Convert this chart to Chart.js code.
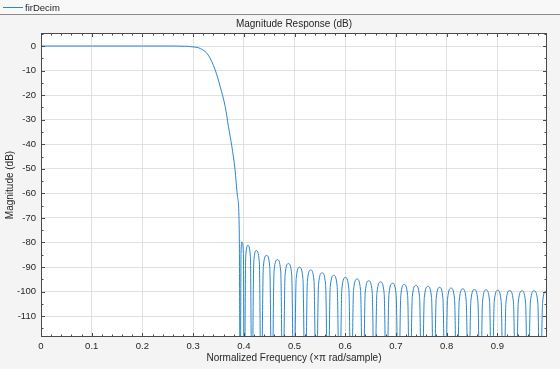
<!DOCTYPE html>
<html lang="en">
<head>
<meta charset="UTF-8">
<title>firDecim - Magnitude Response</title>
<script src="https://cdn.jsdelivr.net/npm/chart.js"></script>
<style>
  html, body { margin: 0; padding: 0; background: #f4f4f4; }
  #wrap { width: 560px; height: 369px; }
</style>
</head>
<body>
<div id="wrap"><canvas id="magChart" width="560" height="369"></canvas></div>

<script>
    // --- data ---
    const seriesName = 'firDecim';
    const chartTitle = 'Magnitude Response (dB)';

    // normalized frequency (x pi rad/sample)
    const freq = [
        // passband + transition
        0, 0.1, 0.2, 0.26, 0.285, 0.2976, 0.314, 0.330, 0.3436, 0.3535, 0.3633, 0.3698, 0.3765, 0.3825, 0.3876, 0.391,
        // stopband lobes: null, rise, peak, fall
        0.3929, 0.3945, 0.3963, 0.3992,
        0.4008, 0.4038, 0.4081, 0.4130,
        0.4160, 0.4197, 0.4245, 0.4306,
        0.4343, 0.4385, 0.4449, 0.4512,
        0.4554, 0.4597, 0.4663, 0.4728,
        0.4771, 0.4814, 0.4880, 0.4945,
        0.4988, 0.5033, 0.5100, 0.5166,
        0.5211, 0.5254, 0.5320, 0.5385,
        0.5428, 0.5474, 0.5544, 0.5613,
        0.5659, 0.5705, 0.5774, 0.5842,
        0.5888, 0.5934, 0.6003, 0.6072,
        0.6118, 0.6164, 0.6234, 0.6303,
        0.6349, 0.6395, 0.6464, 0.6532,
        0.6578, 0.6625, 0.6697, 0.6768,
        0.6815, 0.6862, 0.6933, 0.7004,
        0.7051, 0.7096, 0.7164, 0.7231,
        0.7276, 0.7323, 0.7395, 0.7466,
        0.7513, 0.7560, 0.7632, 0.7703,
        0.7750, 0.7794, 0.7861, 0.7928,
        0.7972, 0.8018, 0.8088, 0.8157,
        0.8203, 0.8249, 0.8318, 0.8386,
        0.8432, 0.8478, 0.8548, 0.8617,
        0.8663, 0.8709, 0.8778, 0.8847,
        0.8893, 0.8939, 0.9008, 0.9076,
        0.9122, 0.9171, 0.9245, 0.9318,
        0.9367, 0.9414, 0.9486, 0.9557,
        0.9604, 0.9652, 0.9725, 0.9798,
        0.9846, 0.9893, 0.9955, 0.9975
    ];

    // magnitude (dB), same order as freq
    const magDb = [
        0, 0, 0, 0, -0.1, -0.3, -1.0, -3.7, -9.8, -16.6, -24.7, -32.9, -41.0, -50.0, -61.4, -74.9,
        -150, -84.4, -79.8, -84.4,
        -150, -85.8, -81.2, -85.8,
        -150, -87.9, -83.3, -87.9,
        -150, -89.9, -85.3, -89.9,
        -150, -91.6, -87.0, -91.6,
        -150, -93.2, -88.6, -93.2,
        -150, -94.7, -90.1, -94.7,
        -150, -95.8, -91.2, -95.8,
        -150, -97.0, -92.4, -97.0,
        -150, -98.0, -93.4, -98.0,
        -150, -98.9, -94.3, -98.9,
        -150, -99.5, -94.9, -99.5,
        -150, -100.2, -95.6, -100.2,
        -150, -100.7, -96.1, -100.7,
        -150, -101.2, -96.6, -101.2,
        -150, -101.7, -97.1, -101.7,
        -150, -102.1, -97.5, -102.1,
        -150, -102.5, -97.9, -102.5,
        -150, -102.9, -98.3, -102.9,
        -150, -103.2, -98.6, -103.2,
        -150, -103.5, -98.9, -103.5,
        -150, -103.8, -99.2, -103.8,
        -150, -103.9, -99.3, -103.9,
        -150, -104.1, -99.5, -104.1,
        -150, -104.2, -99.6, -104.2,
        -150, -104.3, -99.7, -104.3,
        -150, -104.3, -99.7, -104.3,
        -150, -104.5, -99.9, -100.1
    ];

    const xMin = 0, xMax = 0.998, xStep = 0.1;
    const yMin = -118.5, yMax = 5.3, yStep = 10;

    const FONT = "'Liberation Sans', Arial, Helvetica, sans-serif";
    const INK = '#262626';
    const LINE_BLUE = '#2a86d1';

    // background, legend strip, title, plot box and inward ticks (MATLAB style)
    const axesDecor = {
        id: 'axesDecor',
        beforeDraw(chart) {
            const { ctx, chartArea: a } = chart;
            ctx.save();
            ctx.fillStyle = '#f4f4f4';
            ctx.fillRect(0, 0, chart.width, chart.height);
            ctx.fillStyle = '#f8f8f8';
            ctx.fillRect(0, 0, chart.width, 14);
            ctx.strokeStyle = '#8a8a8a';
            ctx.lineWidth = 1;
            ctx.beginPath();
            ctx.moveTo(0, 14.5);
            ctx.lineTo(chart.width, 14.5);
            ctx.stroke();
            // legend entry
            ctx.strokeStyle = LINE_BLUE;
            ctx.beginPath();
            ctx.moveTo(3, 7.5);
            ctx.lineTo(23, 7.5);
            ctx.stroke();
            ctx.fillStyle = INK;
            ctx.font = '9.5px ' + FONT;
            ctx.textBaseline = 'middle';
            ctx.textAlign = 'left';
            ctx.fillText(seriesName, 25, 8);
            // title, centred over the axes
            ctx.font = '10px ' + FONT;
            ctx.textAlign = 'center';
            ctx.fillText(chartTitle, (a.left + a.right) / 2, 24.5);
            // plot background
            ctx.fillStyle = '#ffffff';
            ctx.fillRect(a.left, a.top, a.right - a.left, a.bottom - a.top);
            ctx.restore();
        },
        afterDraw(chart) {
            const { ctx, chartArea: a } = chart;
            const xs = chart.scales.x, ys = chart.scales.y;
            ctx.save();
            ctx.strokeStyle = '#4a4a4a';
            ctx.lineWidth = 1;
            ctx.beginPath();
            for (let i = 0; i * 0.02 <= xMax + 1e-9; i++) {
                const px = Math.round(xs.getPixelForValue(i * 0.02)) + 0.5;
                const len = i % 5 === 0 ? 4 : 2.5;
                ctx.moveTo(px, a.bottom); ctx.lineTo(px, a.bottom - len);
                ctx.moveTo(px, a.top); ctx.lineTo(px, a.top + len);
            }
            for (let v = -115; v <= yMax; v += 5) {
                const py = Math.round(ys.getPixelForValue(v)) + 0.5;
                const len = v % 10 === 0 ? 4 : 2.5;
                ctx.moveTo(a.left, py); ctx.lineTo(a.left + len, py);
                ctx.moveTo(a.right, py); ctx.lineTo(a.right - len, py);
            }
            ctx.stroke();
            ctx.strokeRect(a.left + 0.5, a.top + 0.5, a.right - a.left - 1, a.bottom - a.top - 1);
            ctx.restore();
        }
    };

    new Chart(document.getElementById('magChart'), {
        type: 'line',
        data: {
            datasets: [{
                label: seriesName,
                data: freq.map((f, i) => ({ x: f, y: magDb[i] })),
                borderColor: LINE_BLUE,
                borderWidth: 1,
                pointRadius: 0,
                fill: false,
                cubicInterpolationMode: 'monotone'
            }]
        },
        options: {
            responsive: false,
            animation: false,
            devicePixelRatio: 1,
            layout: { padding: { top: 33, right: 13, left: 0, bottom: 0 } },
            plugins: {
                legend: { display: false },
                tooltip: { enabled: false },
                title: { display: false }
            },
            scales: {
                x: {
                    type: 'linear',
                    min: xMin,
                    max: xMax,
                    afterFit: s => { s.height = 32; },
                    ticks: {
                        stepSize: xStep,
                        includeBounds: false,
                        padding: 4,
                        maxRotation: 0,
                        color: INK,
                        font: { family: FONT, size: 9.5 },
                        callback: v => (v === 0 ? '0' : v.toFixed(1))
                    },
                    grid: { color: '#e1e1e1', drawTicks: false },
                    border: { display: false },
                    title: {
                        display: true,
                        text: 'Normalized Frequency (\u00d7\u03c0 rad/sample)',
                        color: INK,
                        font: { family: FONT, size: 10 },
                        padding: { top: 0, bottom: 5 }
                    }
                },
                y: {
                    min: yMin,
                    max: yMax,
                    afterFit: s => { s.width = 41; },
                    ticks: {
                        stepSize: yStep,
                        includeBounds: false,
                        padding: 5,
                        color: INK,
                        font: { family: FONT, size: 9.5 },
                        callback: v => String(v)
                    },
                    grid: { color: '#e1e1e1', drawTicks: false },
                    border: { display: false },
                    title: {
                        display: true,
                        text: 'Magnitude (dB)',
                        color: INK,
                        font: { family: FONT, size: 10 },
                        padding: { top: 4, bottom: 0 }
                    }
                }
            }
        },
        plugins: [axesDecor]
    });
</script>
</body>
</html>
